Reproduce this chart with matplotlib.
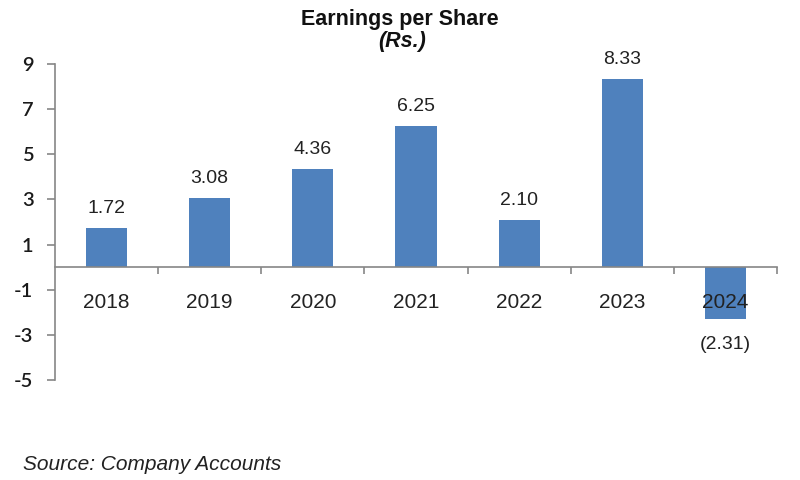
import matplotlib
matplotlib.use("Agg")
import matplotlib.pyplot as plt

years = ["2018", "2019", "2020", "2021", "2022", "2023", "2024"]
eps = [1.72, 3.08, 4.36, 6.25, 2.10, 8.33, -2.31]
value_labels = ["1.72", "3.08", "4.36", "6.25", "2.10", "8.33", "(2.31)"]
y_ticks = [9, 7, 5, 3, 1, -1, -3, -5]

bar_color = "#4F81BD"
axis_color = "#868686"
sans = ["Liberation Sans", "DejaVu Sans"]

fig = plt.figure(figsize=(8, 4.8), dpi=100)
fig.patch.set_facecolor("white")
ax = fig.add_axes([55 / 800, 100 / 480, 722 / 800, 316 / 480])

x = list(range(len(years)))
ax.bar(x, eps, width=0.40, color=bar_color, zorder=2)

ax.set_xlim(-0.5, len(years) - 0.5)
ax.set_ylim(-5, 9)

# spines
for s in ["top", "right"]:
    ax.spines[s].set_visible(False)
ax.spines["left"].set_color(axis_color)
ax.spines["left"].set_linewidth(1.2)
ax.spines["bottom"].set_position(("data", 0))
ax.spines["bottom"].set_color(axis_color)
ax.spines["bottom"].set_linewidth(1.2)
ax.spines["bottom"].set_zorder(3)

# y ticks
ax.set_yticks(y_ticks)
ax.set_yticklabels([str(t) for t in y_ticks], family=["Lato", "DejaVu Sans"],
                   fontsize=14.5, fontweight="semibold", color="#1a1a1a")
ax.tick_params(axis="y", direction="out", length=5.5, width=1.2,
               color=axis_color, pad=10)

# x ticks at category boundaries, no labels
ax.set_xticks([i + 0.5 for i in x])
ax.set_xticklabels([])
ax.tick_params(axis="x", direction="out", length=5, width=1.2, color=axis_color)

# category labels
for i, yr in zip(x, years):
    ax.annotate(yr, xy=(i, 0), xytext=(0, -29.5), textcoords="offset points",
                ha="center", va="baseline", fontsize=15, family=sans,
                color="#222222", zorder=5)

# value labels
for i, v, lab in zip(x, eps, value_labels):
    if v >= 0:
        ax.annotate(lab, xy=(i, v), xytext=(0, 10.8), textcoords="offset points",
                    ha="center", va="baseline", fontsize=14, family=sans,
                    color="#222222")
    else:
        ax.annotate(lab, xy=(i, v), xytext=(0, -21.5), textcoords="offset points",
                    ha="center", va="baseline", fontsize=14, family=sans,
                    color="#222222")

# titles
fig.text(0.5, 1 - 19 / 480, "Earnings per Share", ha="center", va="center",
         fontsize=15.5, fontweight="bold", family=sans, color="#111111")
fig.text(402 / 800, 1 - 42 / 480, "(Rs.)", ha="center", va="center",
         fontsize=15.5, fontweight="bold", fontstyle="italic", family=sans,
         color="#111111")

fig.text(23 / 800, 1 - 470 / 480, "Source: Company Accounts", ha="left",
         va="baseline", fontsize=15, fontstyle="italic", family=sans,
         color="#222222")

fig.savefig("out.png", dpi=100, facecolor="white")
